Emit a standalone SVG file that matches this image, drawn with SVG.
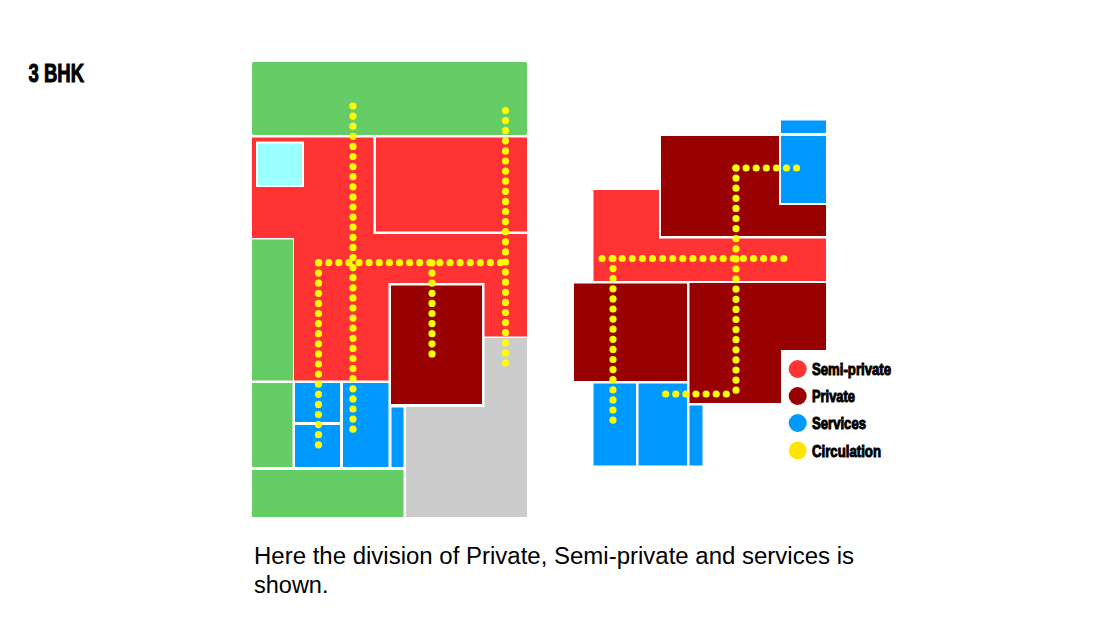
<svg xmlns="http://www.w3.org/2000/svg" width="1120" height="631" viewBox="0 0 1120 631">
<style>
.g{fill:#66cc66}.r{fill:#ff3333}.d{fill:#990000}.b{fill:#0099ff}.c{fill:#99ffff;stroke:#fff;stroke-width:2}.y{fill:#cccccc}
.dots line{stroke:#ffff00;stroke-width:7.2;stroke-linecap:round;stroke-dasharray:0 10.1;fill:none}
.head{font-family:"Liberation Sans Narrow","Liberation Sans",Arial,sans-serif;font-weight:700;fill:#000;stroke:#000;stroke-width:1}
.cap{font-family:"Liberation Sans",Arial,sans-serif;font-size:23.5px;fill:#000}
</style>
<rect width="1120" height="631" fill="#fff"/>
<text class="head" x="28.500" y="81.500" font-size="25" textLength="55.500" lengthAdjust="spacingAndGlyphs">3 BHK</text>
<g id="plan-left">
<rect class="g" x="252" y="62" width="275" height="73" rx="2"/>
<path class="r" d="M252 137.500H527V336.500H484.500V283H388.500V380.500H294V238H252Z"/>
<path d="M374.700 137V232.700H527" fill="none" stroke="#fff" stroke-width="2.500"/>
<rect class="c" x="257" y="142.500" width="46" height="43.500"/>
<rect class="g" x="252" y="239.500" width="41" height="141"/>
<rect class="g" x="252" y="383" width="40.500" height="84"/>
<rect class="g" x="252" y="470" width="151.500" height="47"/>
<path class="y" d="M484.500 338H527V517H406V407H484.500Z"/>
<rect class="b" x="295" y="383" width="45" height="39"/>
<rect class="b" x="295" y="425" width="45" height="42"/>
<rect class="b" x="343" y="383" width="45.500" height="84"/>
<rect class="b" x="391.500" y="407.500" width="12" height="59.500"/>
<rect class="d" x="390" y="284.500" width="93" height="120.500" stroke="#fff" stroke-width="2"/>
</g>
<g id="plan-right">
<rect class="b" x="781" y="120.500" width="45" height="12.500"/>
<rect class="b" x="781" y="136" width="45" height="67"/>
<path class="d" d="M661 136H779V205H826V236H661Z"/>
<path class="r" d="M593.500 190H659V238.500H826V281H593.500Z"/>
<rect class="d" x="574" y="283.500" width="113" height="97.500"/>
<path class="d" d="M689.500 283H826V350H781V403H689.500Z"/>
<rect class="b" x="593.500" y="383.500" width="42.500" height="82"/>
<rect class="b" x="638.500" y="383.500" width="48.500" height="82"/>
<rect class="b" x="689.500" y="405.500" width="13" height="60"/>
</g>
<g id="connectors" class="dots">
<line x1="353" y1="106" x2="353" y2="431"/>
<line x1="505.500" y1="110.500" x2="505.500" y2="364"/>
<line x1="318.700" y1="262.700" x2="506" y2="262.700"/>
<line x1="318.500" y1="263" x2="318.500" y2="446"/>
<line x1="432" y1="263" x2="432" y2="355"/>
<line x1="736" y1="168" x2="798" y2="168"/>
<line x1="736" y1="168" x2="736" y2="394"/>
<line x1="602" y1="258.500" x2="785" y2="258.500"/>
<line x1="613" y1="258.500" x2="613" y2="421"/>
<line x1="665.700" y1="394" x2="736" y2="394"/>
</g>
<g id="legend">
<g id="legend-semi-private"><circle cx="797.700" cy="369" r="9" fill="#ff3333"/><text class="head" x="812" y="375" font-size="16.500" textLength="79" lengthAdjust="spacingAndGlyphs">Semi-private</text></g>
<g id="legend-private"><circle cx="797.700" cy="396" r="9" fill="#990000"/><text class="head" x="812" y="401.500" font-size="16.500" textLength="43" lengthAdjust="spacingAndGlyphs">Private</text></g>
<g id="legend-services"><circle cx="797.700" cy="423" r="9" fill="#0099ff"/><text class="head" x="812" y="428.700" font-size="16.500" textLength="54" lengthAdjust="spacingAndGlyphs">Services</text></g>
<g id="legend-circulation"><circle cx="797.700" cy="450.500" r="9" fill="#ffe600"/><text class="head" x="812" y="456.500" font-size="16.500" textLength="69" lengthAdjust="spacingAndGlyphs">Circulation</text></g>
</g>
<text class="cap" x="254" y="564" textLength="600" lengthAdjust="spacingAndGlyphs">Here the division of Private, Semi-private and services is</text>
<text class="cap" x="254" y="592.500">shown.</text>
</svg>
